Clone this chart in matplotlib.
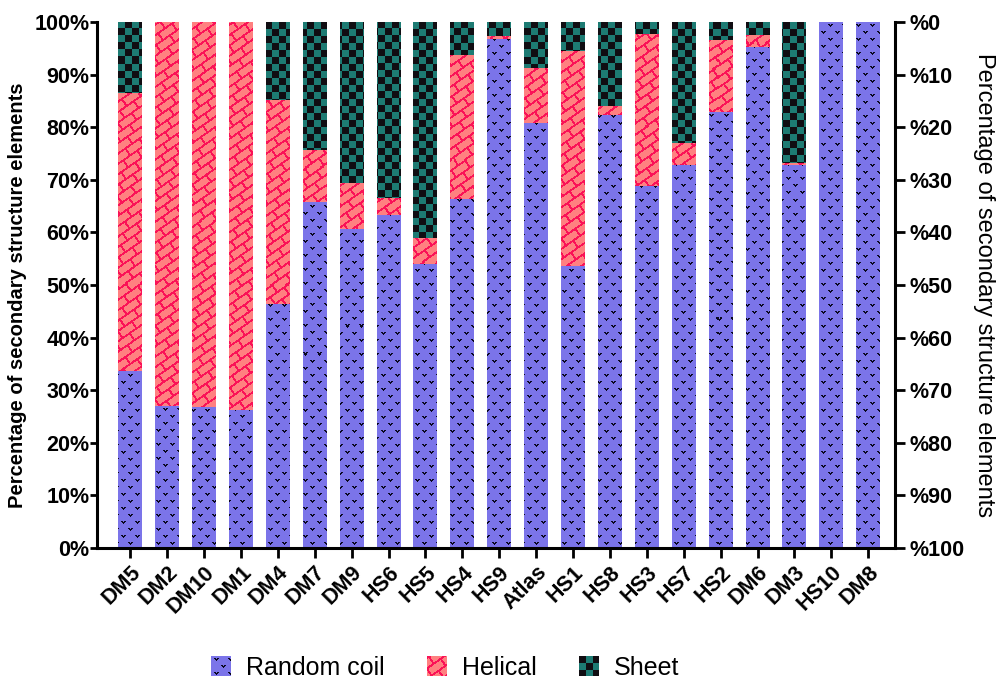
import numpy as np
import matplotlib
matplotlib.use("Agg")
import matplotlib.pyplot as plt
from matplotlib.colors import to_rgb
from matplotlib.patches import Patch
from matplotlib.legend_handler import HandlerBase
from matplotlib.image import BboxImage
from matplotlib.transforms import Bbox, TransformedBbox

plt.rcParams['font.family'] = ['Liberation Sans', 'DejaVu Sans']

# data (percent of residues)
samples = ['DM5', 'DM2', 'DM10', 'DM1', 'DM4', 'DM7', 'DM9', 'HS6', 'HS5', 'HS4', 'HS9',
           'Atlas', 'HS1', 'HS8', 'HS3', 'HS7', 'HS2', 'DM6', 'DM3', 'HS10', 'DM8']
random_coil = [33.6, 27.0, 26.8, 26.3, 46.3, 65.8, 60.7, 63.3, 53.9, 66.3, 96.7,
               80.8, 53.6, 82.3, 68.8, 72.9, 82.9, 95.2, 72.9, 100.0, 100.0]
helical = [52.9, 73.0, 73.2, 73.7, 38.9, 9.9, 8.7, 3.2, 5.1, 27.4, 0.6,
           10.4, 40.8, 1.7, 28.9, 4.1, 13.7, 2.3, 0.3, 0.0, 0.0]
sheet = [13.5, 0.0, 0.0, 0.0, 14.8, 24.3, 30.6, 33.5, 41.0, 6.3, 2.7,
         8.8, 5.6, 16.0, 2.3, 23.0, 3.4, 2.5, 26.8, 0.0, 0.0]
left_ticks = [0, 10, 20, 30, 40, 50, 60, 70, 80, 90, 100]
right_ticks = [0, 10, 20, 30, 40, 50, 60, 70, 80, 90, 100]

coil_col, coil_mark = '#7b74e9', '#0a0820'
hel_col, hel_line = '#ff8080', '#fa1257'
sheet_col, sheet_dark = '#1d7b73', '#100d12'

FW, FH = 998, 682
ax_rect = [0.0972, 0.1965, 0.7998, 0.7712]
W, H = int(round(ax_rect[2] * FW)), int(round(ax_rect[3] * FH))


# --- pixel textures (fill patterns), drawn at screen resolution ---
def fill(mask, base, ink):
    img = np.empty(mask.shape + (3,))
    img[:] = to_rgb(base)
    img[mask] = to_rgb(ink)
    return img


r, c = np.indices((H, W))

# random coil: little "v" marks on a staggered grid
vmark = np.array([[1, 1, 0, 1, 1],
                  [0, 1, 1, 1, 0],
                  [0, 0, 1, 0, 0]], bool)
coil_mask = np.zeros((H, W), bool)
dx, dy = 14, 7
for k, y0 in enumerate(range(2, H - 3, dy)):
    for x0 in range(3 + (k % 2) * dx // 2, W - 5, dx):
        coil_mask[y0:y0 + 3, x0:x0 + 5] |= vmark
coil_tex = fill(coil_mask, coil_col, coil_mark)

# helical: diagonal brick pattern
th = np.deg2rad(35)
u = c * np.cos(th) - r * np.sin(th)
v = c * np.sin(th) + r * np.cos(th)
bh, bl, lw = 8.5, 17.0, 2.0
row = np.floor(v / bh)
hel_mask = (np.mod(v, bh) < lw) | (np.mod(u + row * bl / 2, bl) < lw)
hel_tex = fill(hel_mask, hel_col, hel_line)

# sheet: checkerboard
cell = 7
sheet_mask = ((r // cell + c // cell) % 2) == 0
sheet_tex = fill(sheet_mask, sheet_col, sheet_dark)

fig = plt.figure(figsize=(FW / 100, FH / 100), dpi=100)
ax = fig.add_axes(ax_rect)

x = np.arange(len(samples))
w = 0.65
bot3 = np.array(random_coil) + np.array(helical)
b1 = ax.bar(x, random_coil, w, color=coil_col, linewidth=0, zorder=2)
b2 = ax.bar(x, helical, w, bottom=random_coil, color=hel_col, linewidth=0, zorder=2)
b3 = ax.bar(x, sheet, w, bottom=bot3, color=sheet_col, linewidth=0, zorder=2)

xlim = (-0.9, len(samples) - 1 + 0.73)
ylim = (0, 100)

for bars, vals, tex in [(b1, random_coil, coil_tex), (b2, helical, hel_tex), (b3, sheet, sheet_tex)]:
    for p, val in zip(bars.patches, vals):
        if val <= 0:
            continue
        im = ax.imshow(tex, extent=(xlim[0], xlim[1], ylim[0], ylim[1]), aspect='auto',
                       interpolation='nearest', zorder=2.5)
        im.set_clip_path(p)

ax.set_xlim(*xlim)
ax.set_ylim(*ylim)

ax.set_yticks(left_ticks)
ax.set_yticklabels([f'{t}%' for t in left_ticks])
ax.set_xticks(x)
ax.set_xticklabels(samples, rotation=45, ha='right', rotation_mode='anchor')
for lab in ax.get_xticklabels() + ax.get_yticklabels():
    lab.set_fontweight('bold')
    lab.set_fontsize(15.5)
ax.tick_params(axis='y', width=2, length=5, direction='out', pad=0.5)
ax.tick_params(axis='x', width=2, length=7, direction='out', pad=3)
for s in ['top', 'right']:
    ax.spines[s].set_visible(False)
for s in ['left', 'bottom']:
    ax.spines[s].set_linewidth(2.2)
ax.set_ylabel('Percentage of secondary structure elements', fontsize=14.5, fontweight='bold')
ax.yaxis.set_label_coords(-0.088, 0.48)

ax2 = ax.twinx()
ax2.set_ylim(100, 0)
ax2.set_yticks(right_ticks)
ax2.set_yticklabels([f'%{t}' for t in right_ticks], fontsize=15.5, fontweight='bold')
ax2.tick_params(axis='y', width=2, length=7, pad=3)
for s in ['top', 'left', 'bottom']:
    ax2.spines[s].set_visible(False)
ax2.spines['right'].set_linewidth(2.2)
ax2.set_ylabel('Percentage of secondary structure elements', fontsize=17,
               rotation=270, labelpad=22)


class HandlerTexture(HandlerBase):
    def __init__(self, tex):
        super().__init__()
        self.tex = tex

    def create_artists(self, legend, orig_handle, xdescent, ydescent, width, height, fontsize, trans):
        bb = TransformedBbox(Bbox.from_bounds(-xdescent, -ydescent, width, height), trans)
        img = BboxImage(bb, interpolation='nearest')
        img.set_data(self.tex[:20, :20])
        return [img]


h1 = Patch(facecolor=coil_col)
h2 = Patch(facecolor=hel_col)
h3 = Patch(facecolor=sheet_col)
fig.legend([h1, h2, h3], ['Random coil', 'Helical', 'Sheet'], loc='center',
           bbox_to_anchor=(0.446, 0.0205), ncol=3, frameon=False, fontsize=18,
           handlelength=0.8, handleheight=0.8, handletextpad=0.6, columnspacing=1.7,
           handler_map={h1: HandlerTexture(coil_tex), h2: HandlerTexture(hel_tex),
                        h3: HandlerTexture(sheet_tex)})

fig.savefig('out.png', dpi=100)
